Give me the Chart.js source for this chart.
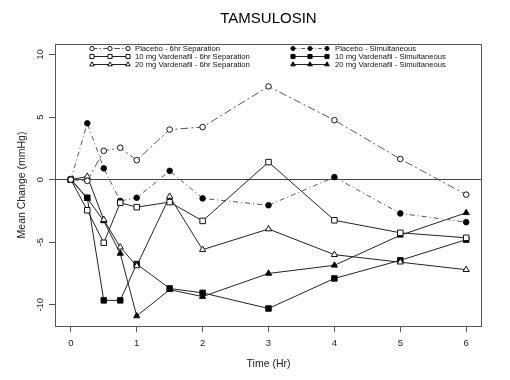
<!DOCTYPE html>
<html><head><meta charset="utf-8">
<script src="https://cdn.jsdelivr.net/npm/chart.js@4"></script>
<style>html,body{margin:0;padding:0;background:#fff}#wrap{width:510px;height:380px;position:relative}</style>
</head><body><div id="wrap"><canvas id="c"></canvas></div>
<script>
const times = [0, 0.25, 0.5, 0.75, 1, 1.5, 2, 3, 4, 5, 6];
const placebo6hr = [0, -0.1, 2.3, 2.55, 1.55, 4.0, 4.2, 7.45, 4.75, 1.65, -1.2];
const placeboSim = [0, 4.5, 0.9, -1.7, -1.45, 0.7, -1.5, -2.05, 0.2, -2.7, -3.4];
const vard10_6hr = [0, -2.45, -5.05, -1.85, -2.2, -1.8, -3.3, 1.4, -3.25, -4.25, -4.65];
const vard20_6hr = [0, 0.25, -3.2, -5.4, -6.9, -1.35, -5.6, -3.95, -6.0, -6.6, -7.2];
const vard10_sim = [0, -1.45, -9.65, -9.65, -6.75, -8.7, -9.05, -10.3, -7.9, -6.45, -4.8];
const vard20_sim = [0, -1.5, -3.3, -5.9, -10.9, -8.8, -9.35, -7.5, -6.85, -4.45, -2.65];
const seriesLabels = [
  'Placebo - 6hr Separation',
  '10 mg Vardenafil - 6hr Separation',
  '20 mg Vardenafil - 6hr Separation',
  'Placebo - Simultaneous',
  '10 mg Vardenafil - Simultaneous',
  '20 mg Vardenafil - Simultaneous'
];
const xTicks = [0, 1, 2, 3, 4, 5, 6];
const yTicks = [-10, -5, 0, 5, 10];
const titleText = 'TAMSULOSIN';
const xTitle = 'Time (Hr)';
const yTitle = 'Mean Change (mmHg)';

const FONT = "'Liberation Sans', Arial, Helvetica, sans-serif";
const INK = '#222';
const pts = arr => arr.map((v, i) => ({x: times[i], y: v}));

const styles = [
  {pointStyle: 'circle', radius: 2.8, fill: '#fff', dash: [8, 3, 2, 3], color: '#555'},
  {pointStyle: 'rect', radius: 3.9, fill: '#fff', dash: [], color: INK},
  {pointStyle: 'triangle', radius: 3.6, fill: '#fff', dash: [], color: INK},
  {pointStyle: 'circle', radius: 2.8, fill: '#000', dash: [5, 3, 1, 3], color: '#555'},
  {pointStyle: 'rect', radius: 3.9, fill: '#000', dash: [], color: INK},
  {pointStyle: 'triangle', radius: 3.6, fill: '#000', dash: [], color: INK}
];
const seriesValues = [placebo6hr, vard10_6hr, vard20_6hr, placeboSim, vard10_sim, vard20_sim];

const datasets = seriesValues.map((vals, k) => ({
  label: seriesLabels[k],
  data: pts(vals),
  borderColor: styles[k].color,
  borderWidth: 1,
  borderDash: styles[k].dash,
  pointStyle: styles[k].pointStyle,
  pointRadius: styles[k].radius,
  pointBackgroundColor: styles[k].fill,
  pointBorderColor: '#111',
  pointBorderWidth: 1,
  tension: 0,
  fill: false
}));

const boxPlugin = {
  id: 'box',
  afterDatasetsDraw(chart) {
    const {ctx, chartArea: a} = chart;
    ctx.save();
    ctx.strokeStyle = '#555';
    ctx.lineWidth = 1;
    ctx.strokeRect(Math.round(a.left) + 0.5, Math.round(a.top) + 0.5, Math.round(a.right - a.left) - 1, Math.round(a.bottom - a.top));
    ctx.restore();
  }
};

const legendPlugin = {
  id: 'rlegend',
  afterDraw(chart) {
    const ctx = chart.ctx;
    const cols = [{x0: 92, x1: 128, tx: 135}, {x0: 293, x1: 327, tx: 335}];
    const rows = [48.5, 56.5, 64.5];
    ctx.save();
    for (let k = 0; k < 6; k++) {
      const c = cols[Math.floor(k / 3)];
      const y = rows[k % 3];
      const s = styles[k];
      ctx.strokeStyle = s.color;
      ctx.lineWidth = 1;
      ctx.setLineDash(s.dash.map(d => d * 0.7));
      ctx.beginPath();
      ctx.moveTo(c.x0, y);
      ctx.lineTo(c.x1, y);
      ctx.stroke();
      ctx.setLineDash([]);
      [c.x0, (c.x0 + c.x1) / 2, c.x1].forEach(px => {
        ctx.fillStyle = s.fill;
        ctx.strokeStyle = '#111';
        Chart.helpers.drawPoint(ctx, {pointStyle: s.pointStyle, rotation: 0, radius: s.radius * 0.75, borderWidth: 1}, px, y);
      });
      ctx.fillStyle = '#111';
      ctx.font = '7.7px ' + FONT;
      ctx.textBaseline = 'middle';
      ctx.textAlign = 'left';
      ctx.fillText(seriesLabels[k], c.tx, y + 0.5);
    }
    ctx.restore();
  }
};

new Chart(document.getElementById('c'), {
  type: 'line',
  data: {datasets},
  options: {
    responsive: true,
    maintainAspectRatio: false,
    animation: false,
    layout: {padding: {left: 0, right: 28, top: 0, bottom: 0}},
    plugins: {
      legend: {display: false},
      tooltip: {enabled: false},
      title: {
        display: true, text: titleText, fullSize: false, color: '#000',
        font: {family: FONT, size: 15, weight: 'normal', lineHeight: 1.2},
        padding: {top: 10, bottom: 16}
      }
    },
    scales: {
      x: {
        type: 'linear', min: -0.24, max: 6.24,
        afterBuildTicks: s => { s.ticks = xTicks.map(v => ({value: v})); },
        afterFit: s => { s.height = 54; },
        ticks: {color: INK, font: {family: FONT, size: 9.5}, padding: 6, maxRotation: 0, minRotation: 0},
        grid: {color: 'rgba(0,0,0,0)', tickColor: '#555', tickLength: 6, drawOnChartArea: false},
        border: {display: false},
        title: {display: true, text: xTitle, color: INK, font: {family: FONT, size: 10.5}, padding: {top: 0, bottom: 10}}
      },
      y: {
        type: 'linear', min: -11.7, max: 10.84,
        afterBuildTicks: s => { s.ticks = yTicks.map(v => ({value: v})); },
        afterFit: s => { s.width = 55; },
        ticks: {color: INK, font: {family: FONT, size: 9.5}, padding: 1.5, minRotation: 90, maxRotation: 90, crossAlign: 'center'},
        grid: {color: c => (c.tick && c.tick.value === 0) ? '#444' : 'rgba(0,0,0,0)', tickColor: '#555', tickLength: 6, lineWidth: 1},
        border: {display: false},
        title: {display: true, text: yTitle, color: INK, font: {family: FONT, size: 10.5}, padding: {top: 15.5, bottom: 0}}
      }
    }
  },
  plugins: [boxPlugin, legendPlugin]
});
</script>
</body></html>
